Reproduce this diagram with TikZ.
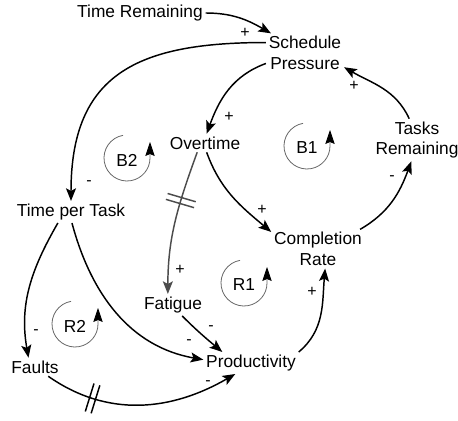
\documentclass[tikz,border=0pt]{standalone}
\usepackage{fontspec}
\setmainfont{Liberation Sans}
\usetikzlibrary{arrows.meta,decorations.markings}

\tikzset{
	var/.style={inner sep=2pt, align=center, font=\fontsize{13}{15.5}\selectfont},
	sign/.style={inner sep=0pt, font=\fontsize{12}{14}\selectfont},
	link/.style={line width=1.1pt, -{Stealth[length=9.5pt,width=7.5pt,inset=2pt]}},
	graylink/.style={draw=black!70, -{Stealth[length=9.5pt,width=7.5pt,inset=2pt,color=black!70]}},
	delaymark/.style={postaction={decorate,decoration={markings,
		mark=at position #1 with {\draw[-,line width=1.1pt] (-2.3pt,-11pt)--(-2.3pt,11pt) (2.3pt,-11pt)--(2.3pt,11pt);}}}},
	loopline/.style={draw=black!60, line width=0.6pt, -{Stealth[length=10.5pt,width=7pt,inset=1.5pt,color=black]}}
}

\begin{document}
\begin{tikzpicture}[x=0.75pt,y=0.75pt]
	\useasboundingbox (0,0) rectangle (458,421);
	
	\node[var] (trem) at (140,408) {Time Remaining};
	\node[var] (sched) at (305,368) {Schedule\\Pressure};
	\node[var] (tasks) at (417,281) {Tasks\\Remaining};
	\node[var] (over) at (205,278) {Overtime};
	\node[var] (tpt) at (71,209) {Time per Task};
	\node[var] (comp) at (318,172) {Completion\\Rate};
	\node[var] (fat) at (173,116) {Fatigue};
	\node[var] (faults) at (35,54) {Faults};
	\node[var] (prod) at (251,58) {Productivity};
	
	% loop markers
	\foreach \nm/\x/\y in {B1/307/275, B2/127/263, R1/244/138, R2/75/97} {
		\node[var] (\nm) at (\x,\y-2) {\nm};
		\draw[loopline] (\x,\y) ++(100:23) arc[start angle=100,end angle=360,radius=23] -- ++(0,16);
	}
	
	\draw[link] (trem.east) to[out=0,in=150] (sched.150);
	\draw[link] (sched.165) to[out=180,in=90,looseness=1.3] (tpt.north);
	\draw[link] (sched.195) to[out=200,in=70] (over.80);
	\draw[link] (tasks.110) to[out=115,in=-30] (sched.-20);
	\draw[link] (comp.25) to[out=30,in=-110] (tasks.255);
	\draw[link] (over.-80) to[out=-70,in=140] (comp.160);
	\draw[link,graylink,delaymark=0.35] (over.-130) to[out=-110,in=90] (fat.115);
	\draw[link] (fat.-50) to[out=-45,in=140] (prod.159);
	\draw[link] (tpt.-85) to[out=-75,in=170] (prod.176);
	\draw[link] (tpt.-140) to[out=-120,in=100] (faults.125);
	\draw[link,delaymark=0.25] (faults.-35) to[out=-35,in=210] (prod.-145);
	\draw[link] (prod.13) to[out=40,in=-95] (comp.-70);
	
	\node[sign] (s1) at (245,388) {+};
	\node[sign] (s2) at (89,238) {-};
	\node[sign] (s3) at (229,304) {+};
	\node[sign] (s4) at (354,335) {+};
	\node[sign] (s5) at (392,243) {-};
	\node[sign] (s6) at (262,211) {+};
	\node[sign] (s7) at (180,151) {+};
	\node[sign] (s8) at (211,93) {-};
	\node[sign] (s9) at (189,79) {-};
	\node[sign] (s10) at (36,89) {-};
	\node[sign] (s11) at (208,38) {-};
	\node[sign] (s12) at (312,129) {+};
\end{tikzpicture}
\end{document}
